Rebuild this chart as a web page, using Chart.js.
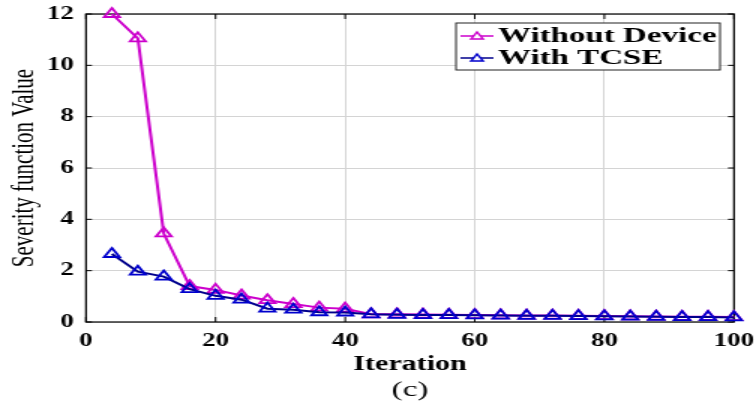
<!DOCTYPE html>
<html>
<head>
<meta charset="utf-8">
<script src="https://cdn.jsdelivr.net/npm/chart.js@4.4.1/dist/chart.umd.min.js"></script>
<style>
    html, body { margin: 0; padding: 0; background: #fff; overflow: hidden; }
    /* la figura original viene estirada en horizontal */
    #wrap { width: 504px; height: 405px; transform: scaleX(1.5); transform-origin: 0 0; }
</style>
</head>
<body>
<div id="wrap"><canvas id="chartSeveridad"></canvas></div>
<script>
const iteraciones = [4, 8, 12, 16, 20, 24, 28, 32, 36, 40, 44, 48, 52, 56, 60, 64, 68, 72, 76, 80, 84, 88, 92, 96, 100];
const sinDispositivo = [12.0, 11.05, 3.45, 1.4, 1.25, 1.03, 0.85, 0.7, 0.56, 0.52, 0.3, 0.3, 0.29, 0.28, 0.27, 0.26, 0.25, 0.25, 0.24, 0.23, 0.22, 0.21, 0.2, 0.2, 0.19];
const conTCSE = [2.65, 1.96, 1.77, 1.28, 1.02, 0.87, 0.52, 0.48, 0.38, 0.37, 0.3, 0.28, 0.27, 0.27, 0.26, 0.25, 0.24, 0.24, 0.23, 0.22, 0.21, 0.2, 0.19, 0.19, 0.18];
const ticksX = [0, 20, 40, 60, 80, 100];
const ticksY = [0, 2, 4, 6, 8, 10, 12];

const fuente = "'Liberation Serif', 'Times New Roman', serif";
const magenta = '#cc00cc';
const azulLinea = '#00008b';
const azulMarca = '#0000cd';

const puntos = (valores) => iteraciones.map((it, i) => ({ x: it, y: valores[i] }));

// icono de la leyenda: linea con triangulo
const iconoLeyenda = (colorLinea, colorMarca) => {
    const c = document.createElement('canvas');
    c.width = 22;
    c.height = 12;
    const g = c.getContext('2d');
    g.lineWidth = 1.5;
    g.strokeStyle = colorLinea;
    g.beginPath();
    g.moveTo(0, 6);
    g.lineTo(22, 6);
    g.stroke();
    g.strokeStyle = colorMarca;
    g.fillStyle = '#fff';
    g.beginPath();
    g.moveTo(11, 2);
    g.lineTo(15, 9);
    g.lineTo(7, 9);
    g.closePath();
    g.fill();
    g.stroke();
    return c;
};
const iconos = [iconoLeyenda(magenta, magenta), iconoLeyenda(azulLinea, azulMarca)];

const marcoYLeyenda = {
    id: 'marcoYLeyenda',
    beforeLayout(chart) {
        const leyenda = chart.legend;
        if (leyenda) {
            // leyenda encima de las series y sin recorte
            leyenda._layers = () => [{
                z: 10,
                draw: () => {
                    leyenda.ctx.save();
                    leyenda._draw();
                    leyenda.ctx.restore();
                }
            }];
        }
    },
    afterLayout(chart) {
        const { chartArea, legend } = chart;
        legend.left = chartArea.right - 174.3;
        legend.top = chartArea.top + 11;
        legend.right = legend.left + legend.width + 20;
        legend.bottom = legend.top + 80;
    },
    beforeDatasetsDraw(chart) {
        const { ctx, chartArea: a, scales } = chart;
        ctx.save();
        ctx.strokeStyle = '#000';
        ctx.lineWidth = 1.2;
        ctx.strokeRect(a.left, a.top, a.right - a.left, a.bottom - a.top);
        ctx.lineWidth = 1;
        ctx.beginPath();
        ticksY.forEach(v => {
            const y = scales.y.getPixelForValue(v);
            ctx.moveTo(a.left, y); ctx.lineTo(a.left + 4, y);
            ctx.moveTo(a.right, y); ctx.lineTo(a.right - 4, y);
        });
        ticksX.forEach(v => {
            const x = scales.x.getPixelForValue(v);
            ctx.moveTo(x, a.bottom); ctx.lineTo(x, a.bottom - 5);
            ctx.moveTo(x, a.top); ctx.lineTo(x, a.top + 5);
        });
        ctx.stroke();
        ctx.restore();
    },
    afterDatasetsDraw(chart) {
        const { ctx, legend } = chart;
        const x = legend.left - 11;
        const y = legend.top - 2;
        ctx.save();
        ctx.fillStyle = '#fff';
        ctx.fillRect(x, y, 176, 47);
        ctx.strokeStyle = '#222';
        ctx.lineWidth = 1;
        ctx.strokeRect(x, y, 176, 47);
        ctx.restore();
    }
};

const canvas = document.getElementById('chartSeveridad');
const context = canvas.getContext('2d');

const chartSeveridad = new Chart(context, {
    type: 'line',
    data: {
        datasets: [
            {
                label: 'Without Device',
                data: puntos(sinDispositivo),
                borderColor: magenta,
                borderWidth: 2,
                pointStyle: 'triangle',
                pointRadius: 6,
                pointBorderWidth: 1.8,
                pointBorderColor: magenta,
                pointBackgroundColor: 'rgba(255,255,255,0)',
                tension: 0,
                clip: false,
                order: 2
            },
            {
                label: 'With TCSE',
                data: puntos(conTCSE),
                borderColor: azulLinea,
                borderWidth: 2,
                pointStyle: 'triangle',
                pointRadius: 6,
                pointBorderWidth: 1.8,
                pointBorderColor: azulMarca,
                pointBackgroundColor: 'rgba(255,255,255,0)',
                tension: 0,
                clip: false,
                order: 1
            }
        ]
    },
    options: {
        responsive: true,
        maintainAspectRatio: false,
        animation: false,
        layout: { padding: { top: 14, right: 14.67, left: 0, bottom: 0 } },
        scales: {
            x: {
                type: 'linear',
                min: 0,
                max: 100,
                afterBuildTicks: (s) => { s.ticks = ticksX.map(v => ({ value: v })); },
                afterFit: (s) => {
                    s.height = 48.6;
                    s.paddingLeft = 0;
                    s.paddingRight = 0;
                },
                grid: { color: '#d4d4d4', lineWidth: 1, drawTicks: false },
                border: { display: false },
                ticks: { padding: 9, color: '#000', font: { family: fuente, size: 18, weight: 'bold' } },
                title: {
                    display: true,
                    text: 'Iteration',
                    color: '#000',
                    padding: { top: 0, bottom: -4 },
                    font: { family: fuente, size: 20, weight: 'bold', lineHeight: 1 }
                }
            },
            y: {
                min: 0,
                max: 12,
                afterBuildTicks: (s) => { s.ticks = ticksY.map(v => ({ value: v })); },
                afterFit: (s) => {
                    s.width = 57.33;
                    s.paddingTop = 0;
                    s.paddingBottom = 0;
                },
                grid: { color: '#d4d4d4', lineWidth: 1, drawTicks: false },
                border: { display: false },
                ticks: { padding: 8, color: '#000', font: { family: fuente, size: 18, weight: 'bold' } },
                title: {
                    display: true,
                    text: 'Severity function Value',
                    color: '#000',
                    padding: { top: 4, bottom: 0 },
                    font: { family: fuente, size: 21, weight: 'normal' }
                }
            }
        },
        plugins: {
            legend: {
                position: 'chartArea',
                align: 'start',
                labels: {
                    usePointStyle: true,
                    pointStyleWidth: 6,
                    padding: 0,
                    color: '#000',
                    font: { family: fuente, size: 22, weight: 'bold' },
                    sort: (a, b) => a.datasetIndex - b.datasetIndex,
                    generateLabels: (chart) => {
                        const items = Chart.defaults.plugins.legend.labels.generateLabels(chart);
                        items.forEach(item => { item.pointStyle = iconos[item.datasetIndex]; });
                        return items;
                    }
                }
            },
            title: {
                display: true,
                text: '(c)',
                position: 'bottom',
                fullSize: false,
                color: '#000',
                padding: { top: 6, bottom: 2 },
                font: { family: fuente, size: 22, weight: 'normal' }
            },
            tooltip: { enabled: false }
        }
    },
    plugins: [marcoYLeyenda]
});
</script>
</body>
</html>
